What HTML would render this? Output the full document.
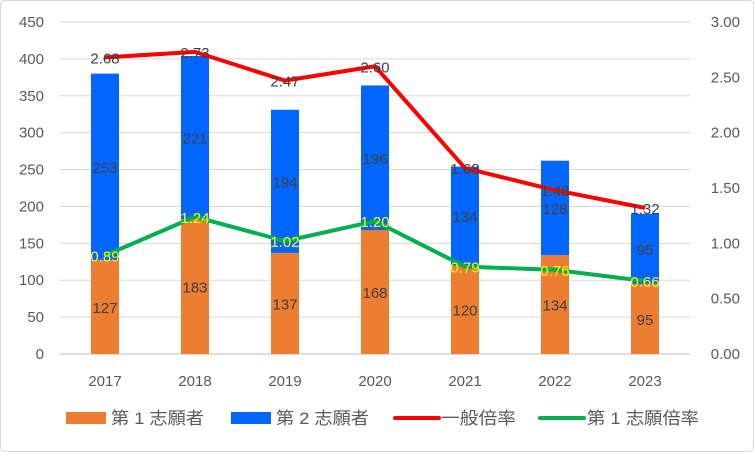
<!DOCTYPE html>
<html><head><meta charset="utf-8"><style>
body{margin:0;background:#fff;}
svg{display:block;font-family:"Liberation Sans","Noto Sans CJK JP",sans-serif;}
</style></head><body>
<svg id="chart" width="754" height="452">
<rect x="0.5" y="0.5" width="753" height="451" rx="4" fill="#fff" stroke="#d9d9d9"/>
<g id="grid"></g><g id="bars"></g><g id="lines"></g><g id="axes"></g><g id="labels"></g>
<g id="legend" font-size="17" fill="#595959"></g>
</svg>
<script>
const categories=["2017","2018","2019","2020","2021","2022","2023"];
const first=[127,183,137,168,120,134,95];
const second=[253,221,194,196,134,128,95];
const generalRatio=[2.68,2.73,2.47,2.60,1.68,1.48,1.32];
const firstRatio=[0.89,1.24,1.02,1.20,0.79,0.76,0.66];
const leftTicks=[0,50,100,150,200,250,300,350,400,450];
const rightTicks=["0.00","0.50","1.00","1.50","2.00","2.50","3.00"];
const NS="http://www.w3.org/2000/svg";
const X0=60,X1=690,Y0=354,Y1=22,bw=28;
const step=(X1-X0)/categories.length;
const xc=i=>X0+step*(i+0.5);
const yL=v=>Y0-(v/450)*(Y0-Y1);
const yR=v=>Y0-(v/3)*(Y0-Y1);
function mk(tag,attrs,parent,text){const e=document.createElementNS(NS,tag);for(const k in attrs)e.setAttribute(k,attrs[k]);if(text!==undefined)e.textContent=text;document.getElementById(parent).appendChild(e);return e;}
leftTicks.forEach(t=>{
 const g=mk('line',{x1:X0,x2:X1,y1:yL(t),y2:yL(t),stroke:t===0?'#bfbfbf':'#d9d9d9','stroke-width':1},'grid');
 
 const l=mk('text',{x:44,y:yL(t)+5,'text-anchor':'end','font-size':15,fill:'#595959'},'axes',t);
 
});
rightTicks.forEach(t=>{
 const l=mk('text',{x:740,y:yR(+t)+5,'text-anchor':'end','font-size':15,fill:'#595959'},'axes',t);
 
});
categories.forEach((c,i)=>{
 const l=mk('text',{x:xc(i),y:386,'text-anchor':'middle','font-size':15,fill:'#595959'},'axes',c);
 
 const b1=mk('rect',{x:xc(i)-bw/2,y:yL(first[i]),width:bw,height:Y0-yL(first[i]),fill:'#ED7D31'},'bars');
 
 const top=first[i]+second[i];
 const b2=mk('rect',{x:xc(i)-bw/2,y:yL(top),width:bw,height:yL(first[i])-yL(top),fill:'#0066FF'},'bars');
 
 const t1=mk('text',{x:xc(i),y:(yL(first[i])+Y0)/2+6,'text-anchor':'middle','font-size':15,fill:'#404040'},'labels',first[i]);
 
 const t2=mk('text',{x:xc(i),y:(yL(first[i])+yL(top))/2+6,'text-anchor':'middle','font-size':15,fill:'#404040'},'labels',second[i]);
 
 const t3=mk('text',{x:xc(i),y:yR(generalRatio[i])+6,'text-anchor':'middle','font-size':15,fill:'#404040'},'labels',generalRatio[i].toFixed(2));
 
 const t4=mk('text',{x:xc(i),y:yR(firstRatio[i])+6,'text-anchor':'middle','font-size':15,fill:'#FFFF00'},'labels',firstRatio[i].toFixed(2));
 
});
const p1=mk('polyline',{points:generalRatio.map((v,i)=>xc(i)+','+yR(v)).join(' '),fill:'none',stroke:'#FF0000','stroke-width':4,'stroke-linejoin':'round'},'lines');

const p2=mk('polyline',{points:firstRatio.map((v,i)=>xc(i)+','+yR(v)).join(' '),fill:'none',stroke:'#00B050','stroke-width':4,'stroke-linejoin':'round'},'lines');

const lg=[["第 1 志願者","rect","#ED7D31",66,111,93],["第 2 志願者","rect","#0066FF",231,276,93],["一般倍率","line","#FF0000",395,441,75],["第 1 志願倍率","line","#00B050",540,587,112]];
lg.forEach(([t,k,c,x,tx0,w])=>{
 let m;
 if(k==='rect'){m=mk('rect',{x:x,y:412,width:40,height:12,fill:c},'legend');}
 else{m=mk('line',{x1:x,x2:x+44,y1:418,y2:418,stroke:c,'stroke-width':4,'stroke-linecap':'round'},'legend');}
 
 const tx=mk('text',{x:tx0,y:424,textLength:w,lengthAdjust:'spacingAndGlyphs'},'legend',t);
 
});
</script>
</body></html>
